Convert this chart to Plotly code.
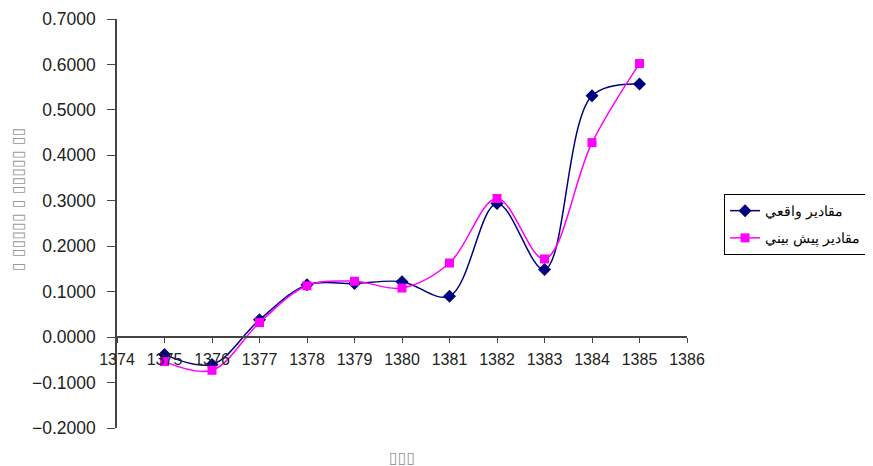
import plotly.graph_objects as go

years = [1375, 1376, 1377, 1378, 1379, 1380, 1381, 1382, 1383, 1384, 1385]
actual = [-0.038, -0.060, 0.038, 0.115, 0.118, 0.122, 0.090, 0.294, 0.149, 0.531, 0.557]
predicted = [-0.054, -0.073, 0.032, 0.113, 0.123, 0.108, 0.163, 0.305, 0.172, 0.428, 0.602]
name_actual = "مقادير واقعي"
name_pred = "مقادير پيش بيني"
x_title = "▯▯▯"
y_title = "▯ ▯▯▯▯▯ ▯ ▯▯▯▯▯ ▯▯"

fig = go.Figure()
fig.add_trace(go.Scatter(
    x=years, y=actual, name=name_actual, mode="lines+markers", legendgroup="a",
    line=dict(color="#000080", width=1.5, shape="spline", smoothing=1),
    marker=dict(symbol="diamond", size=10, color="#000080"),
))
fig.add_trace(go.Scatter(
    x=years, y=predicted, name=name_pred, mode="lines+markers", legendgroup="b",
    line=dict(color="#FF00FF", width=1.5, shape="spline", smoothing=1),
    marker=dict(symbol="square", size=9, color="#FF00FF"),
))

fig.update_layout(
    width=865, height=458,
    margin=dict(l=109, r=186, t=11, b=38, autoexpand=False),
    paper_bgcolor="white", plot_bgcolor="white",
    font=dict(family="Liberation Sans, Arial, sans-serif", size=15, color="#222"),
    showlegend=True,
    legend=dict(
        x=1.065, y=0.572, xanchor="left", yanchor="top",
        bordercolor="black", borderwidth=1, bgcolor="white",
        font=dict(size=14, color="black"),
        tracegroupgap=6,
    ),
    xaxis=dict(
        range=[1374, 1386], dtick=1, tick0=1374,
        showgrid=False, zeroline=False,
        showline=True, linecolor="#444", linewidth=1.5,
        ticks="outside", ticklen=5, tickcolor="#444",
        anchor="free", position=0.2222,
        ticklabelstandoff=3,
        tickfont=dict(size=16, color="#222"),
    ),
    yaxis=dict(
        range=[-0.2, 0.7], dtick=0.1, tickformat=".4f",
        showgrid=False, zeroline=False,
        showline=True, linecolor="#444", linewidth=1.5,
        ticks="outside", ticklen=8, tickcolor="#444",
        ticklabelstandoff=8,
        tickfont=dict(size=17.5, color="#222"),
    ),
    annotations=[
        dict(text=y_title, xref="paper", yref="paper", x=-0.1737, y=0.56,
             xanchor="center", yanchor="middle",
             textangle=-90, showarrow=False,
             font=dict(family="DejaVu Sans", size=16, color="#999")),
        dict(text=x_title, xref="paper", yref="paper", x=0.5, y=-0.071,
             xanchor="center", yanchor="middle",
             showarrow=False, font=dict(family="DejaVu Sans", size=16, color="#999")),
    ],
)

fig.write_html("out.html")
